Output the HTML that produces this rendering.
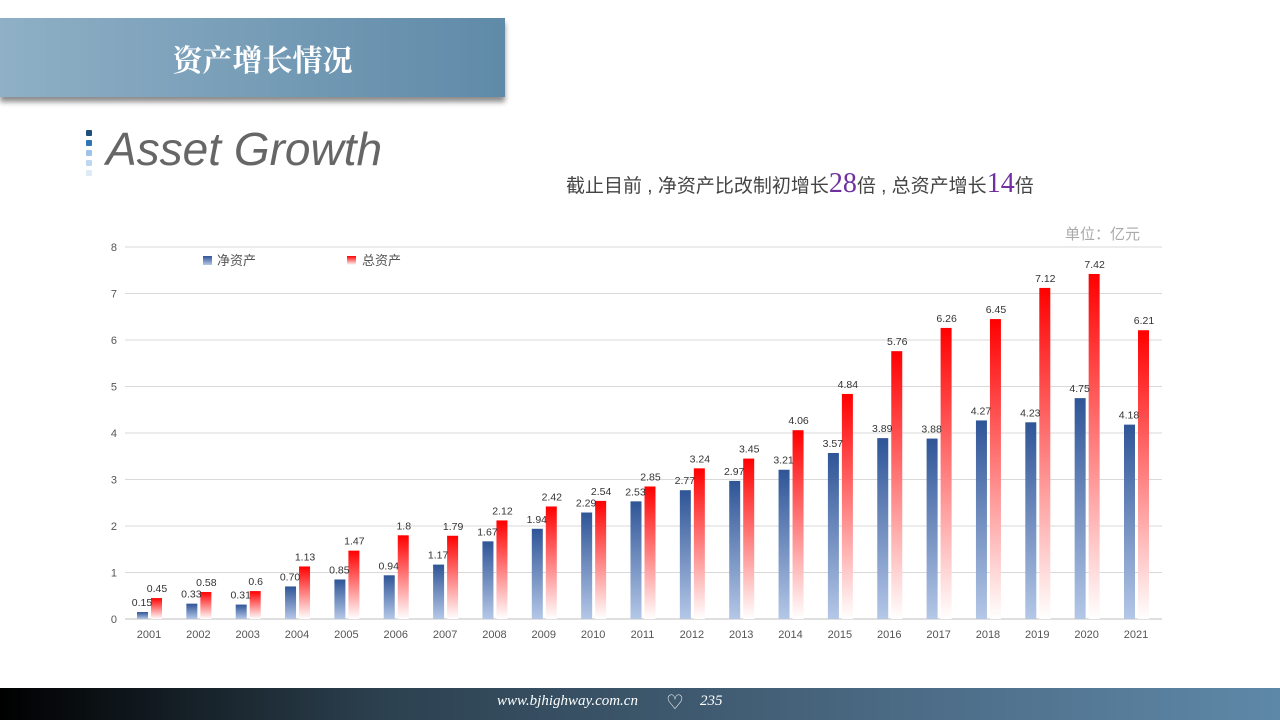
<!DOCTYPE html>
<html><head><meta charset="utf-8"><style>
body{margin:0;width:1280px;height:720px;overflow:hidden;background:#fff;position:relative;font-family:"Liberation Sans","Noto Sans CJK SC",sans-serif}
.banner{position:absolute;left:0;top:18px;width:505px;height:79px;background:linear-gradient(90deg,#8fb0c6,#5f8aa8);box-shadow:0 5px 5px rgba(0,0,0,.45)}
.banner div{position:absolute;left:0;width:525px;top:18px;text-align:center;color:#fff;font-size:30px;font-weight:bold;font-family:"Noto Serif CJK SC",serif}
.ag{position:absolute;left:106px;top:122px;font-size:46px;color:#666;font-style:italic;font-family:"Liberation Sans",sans-serif;letter-spacing:0px}
.sq{position:absolute;left:86px;width:6px;height:6px;border-radius:1px}
.sub{position:absolute;left:566px;top:168px;font-size:19px;color:#444;white-space:nowrap}
.sub b{font-weight:normal;color:#7030a0;font-size:28px;font-family:"Liberation Serif",serif}
.unit{position:absolute;left:1065px;top:223px;color:#aaa;font-size:15px}
.foot{position:absolute;left:0;top:688px;width:1280px;height:32px;background:linear-gradient(90deg,#000,#2c4150 30%,#4b6a84 70%,#5e88a8)}
.foot span{position:absolute;top:5px;color:#fff;font-style:italic;font-size:15px;font-family:"Liberation Serif",serif}
</style></head><body>
<div class="banner"><div>资产增长情况</div></div>
<div class="sq" style="top:130px;background:#1f4e79"></div>
<div class="sq" style="top:140px;background:#2e75b6"></div>
<div class="sq" style="top:150px;background:#9dc3e6"></div>
<div class="sq" style="top:160px;background:#bdd7ee"></div>
<div class="sq" style="top:170px;background:#deebf7"></div>
<div class="ag">Asset Growth</div>
<div class="sub">截止目前 , 净资产比改制初增长<b>28</b>倍 , 总资产增长<b>14</b>倍</div>
<div class="unit">单位：亿元</div>
<svg width="1280" height="720" style="position:absolute;left:0;top:0">
<defs>
<linearGradient id="gb" x1="0" y1="0" x2="0" y2="1"><stop offset="0" stop-color="#2f5597"/><stop offset="1" stop-color="#b4c7e7"/></linearGradient>
<linearGradient id="gr" x1="0" y1="0" x2="0" y2="1"><stop offset="0" stop-color="#ff0000"/><stop offset="1" stop-color="#ffffff"/></linearGradient>
</defs>
<g id="c" font-size="11" fill="#333"></g>
</svg>
<div class="foot"><span style="left:497px">www.bjhighway.com.cn</span><span style="left:666px;top:2px;font-style:normal;font-size:20px">♡</span><span style="left:700px">235</span></div>
<script>
var g=document.getElementById('c'),h='';
var n=[0.15,0.33,0.31,0.70,0.85,0.94,1.17,1.67,1.94,2.29,2.53,2.77,2.97,3.21,3.57,3.89,3.88,4.27,4.23,4.75,4.18];
var t=[0.45,0.58,0.6,1.13,1.47,1.8,1.79,2.12,2.42,2.54,2.85,3.24,3.45,4.06,4.84,5.76,6.26,6.45,7.12,7.42,6.21];
var tl=['0.45','0.58','0.6','1.13','1.47','1.8','1.79','2.12','2.42','2.54','2.85','3.24','3.45','4.06','4.84','5.76','6.26','6.45','7.12','7.42','6.21'];
var nl=['0.15','0.33','0.31','0.70','0.85','0.94','1.17','1.67','1.94','2.29','2.53','2.77','2.97','3.21','3.57','3.89','3.88','4.27','4.23','4.75','4.18'];
for(var i=0;i<=8;i++){var y=619-i*46.5;h+='<line x1="125" x2="1162" y1="'+y+'" y2="'+y+'" stroke="'+(i?'#d9d9d9':'#bfbfbf')+'"/><text x="117" y="'+(y+4)+'" text-anchor="end" fill="#555">'+i+'</text>';}
for(var i=0;i<21;i++){var cx=149+i*49.35;
var hb=n[i]*46.5,hr=t[i]*46.5;
h+='<rect x="'+(cx-12)+'" y="'+(619-hb)+'" width="11" height="'+hb+'" fill="url(#gb)"/>';
h+='<rect x="'+(cx+2)+'" y="'+(619-hr)+'" width="11" height="'+hr+'" fill="url(#gr)"/>';
h+='<text x="'+(cx-7)+'" y="'+(619-hb-6)+'" text-anchor="middle" font-size="10.5">'+nl[i]+'</text>';
h+='<text x="'+(cx+8)+'" y="'+(619-hr-6)+'" text-anchor="middle" font-size="10.5">'+tl[i]+'</text>';
h+='<text x="'+cx+'" y="638" text-anchor="middle" fill="#555">'+(2001+i)+'</text>';}
h+='<rect x="203" y="256" width="9" height="9" fill="url(#gb)"/><text x="217" y="265" font-size="13" fill="#555">净资产</text>';
h+='<rect x="347" y="256" width="9" height="9" fill="url(#gr)"/><text x="362" y="265" font-size="13" fill="#555">总资产</text>';
g.innerHTML=h;
</script>
</body></html>
